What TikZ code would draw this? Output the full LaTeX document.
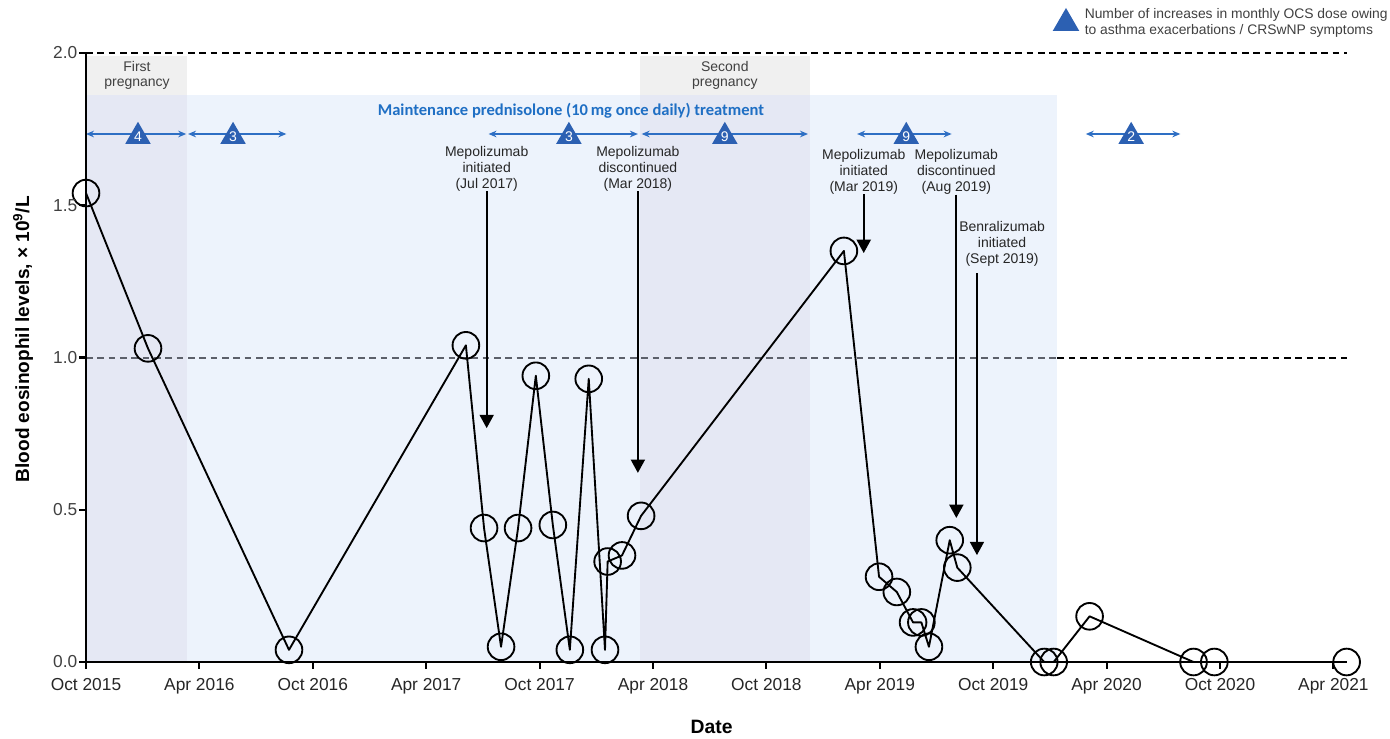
\documentclass[tikz,border=0pt]{standalone}
\usepackage{fontspec}
\setmainfont{Liberation Sans}
\newfontfamily\calibri{Carlito}
\usepackage{tikz}
\usetikzlibrary{positioning,arrows.meta,shapes.geometric}
\definecolor{bandblue}{RGB}{237,243,252}
\definecolor{bandgray}{RGB}{240,240,240}
\definecolor{bandboth}{RGB}{229,232,244}
\definecolor{ocsblue}{RGB}{46,111,196}
\definecolor{ocsfill}{RGB}{44,96,178}
\definecolor{ocstext}{RGB}{31,111,196}
\definecolor{txtgray}{RGB}{64,64,64}
\definecolor{refgray}{RGB}{92,96,106}
\tikzstyle{reading}=[draw, circle, minimum size=20pt, inner sep=0pt, line width=1.4pt]
\tikzstyle{dataline}=[line width=1.4pt, line join=round]
\tikzstyle{ocs}=[fill=ocsfill, regular polygon, regular polygon sides=3, minimum size=22pt, inner sep=0pt, text=white, font=\fontsize{10.5pt}{10.5pt}\selectfont]
\tikzstyle{ocsspan}=[ocsblue, line width=1.1pt, {Stealth[length=6pt,width=5pt]}-{Stealth[length=6pt,width=5pt]}]
\tikzstyle{event}=[align=center, inner sep=0pt, anchor=north, text=black!85, font=\fontsize{10.5pt}{12pt}\selectfont]
\tikzstyle{eventarrow}=[line width=1.5pt, -{Triangle[width=10.5pt,length=10pt]}]
\tikzstyle{bandtext}=[align=center, inner sep=0pt, text=txtgray, font=\fontsize{10.5pt}{11.5pt}\selectfont]
\tikzstyle{xlab}=[anchor=north, inner sep=0pt, text=black!85, font=\fontsize{13pt}{13pt}\selectfont]
\tikzstyle{ylab}=[anchor=east, inner sep=0pt, text=txtgray, font=\fontsize{13pt}{13pt}\selectfont]
\tikzstyle{axisline}=[line width=1.6pt]
\tikzstyle{refline}=[dash pattern=on 5pt off 3.5pt, line width=1.5pt]
\begin{document}
\begin{tikzpicture}[x=0.75pt, y=-0.75pt]
	\useasboundingbox (0,0) rectangle (1390,739);
	% legend
	\node[ocs, minimum size=23pt] (legendMark) at (1066,23.3) {};
	\node[right=7pt of legendMark, align=left, inner sep=0pt, text=txtgray, font=\fontsize{10.4pt}{12pt}\selectfont] (legendText) {Number of increases in monthly OCS dose owing\\to asthma exacerbations / CRSwNP symptoms};
	% plot area: months since Oct 2015 / eosinophils
	\begin{scope}[shift={(86,662)}, x=14.175pt, y=228.375pt]
		% treatment and pregnancy bands
		\fill[bandblue] (0,0) rectangle (51.4,1.862);
		\fill[bandgray] (0,1.862) rectangle (5.34,1.99);
		\fill[bandboth] (0,0) rectangle (5.34,1.862);
		\fill[bandgray] (29.3,1.862) rectangle (38.3,1.99);
		\fill[bandboth] (29.3,0) rectangle (38.3,1.862);
		\node[bandtext] (preg1) at (2.7,1.926) {First\\pregnancy};
		\node[bandtext] (preg2) at (33.8,1.926) {Second\\pregnancy};
		\node[text=ocstext, font=\calibri\bfseries\fontsize{12.4pt}{13pt}\selectfont] (maint) at (25.66,1.81) {Maintenance prednisolone (10\,mg once daily) treatment};
		% reference lines
		\draw[refline] (0,2) -- (66.7,2);
		\draw[refline, refgray] (0,1) -- (51.4,1);
		\draw[refline] (51.4,1) -- (66.7,1);
		% OCS increases
		\foreach \a/\b/\c/\n [count=\k] in {0/5.3/2.75/4, 5.4/10.6/7.78/3, 21.3/29.2/25.55/3, 29.4/38.2/33.8/9, 40.8/45.8/43.4/9, 52.9/57.9/55.3/2}{
			\coordinate (ocsL\k) at (\a,1.734);
			\coordinate (ocsR\k) at (\b,1.734);
			\draw[ocsspan] (ocsL\k) -- (ocsR\k);
			\node[ocs] (ocs\k) at (\c,1.726) {\n};
		}
		% treatment events
		\node[event] (mepoJul) at (21.2,1.695) {Mepolizumab\\initiated\\(Jul 2017)};
		\coordinate (mepoJulTip) at (21.2,0.768);
		\node[event] (mepoMar) at (29.2,1.695) {Mepolizumab\\discontinued\\(Mar 2018)};
		\coordinate (mepoMarTip) at (29.2,0.621);
		\node[event] (mepoRe) at (41.15,1.685) {Mepolizumab\\initiated\\(Mar 2019)};
		\coordinate (mepoReTip) at (41.15,1.343);
		\node[event] (mepoAug) at (46.05,1.685) {Mepolizumab\\discontinued\\(Aug 2019)};
		\coordinate (mepoAugTip) at (46.05,0.473);
		\node[event] (benra) at (48.47,1.448) {Benralizumab\\initiated\\(Sept 2019)};
		\coordinate (benraTop) at (47.14,1.277);
		\coordinate (benraTip) at (47.14,0.351);
		\draw[eventarrow] (mepoJul.south) -- (mepoJulTip);
		\draw[eventarrow] (mepoMar.south) -- (mepoMarTip);
		\draw[eventarrow] (mepoRe.south) -- (mepoReTip);
		\draw[eventarrow] (mepoAug.south) -- (mepoAugTip);
		\draw[eventarrow] (benraTop) -- (benraTip);
		% eosinophil readings
		\foreach \m/\v [count=\i] in {0/1.54, 3.28/1.03, 10.74/0.04, 20.1/1.04, 21.06/0.44, 21.96/0.05, 22.86/0.44, 23.8/0.94, 24.7/0.45, 25.6/0.04, 26.6/0.93, 27.46/0.04, 27.6/0.33, 28.36/0.35, 29.37/0.48, 40.1/1.35, 41.96/0.28, 42.9/0.23, 43.76/0.13, 44.2/0.13, 44.6/0.05, 45.7/0.40, 46.1/0.31, 50.7/0, 51.2/0, 53.1/0.15, 58.6/0, 59.7/0, 66.7/0}
			\node[reading] (p\i) at (\m,\v) {};
		\draw[dataline] (p1.center) \foreach \i in {2,...,29}{ -- (p\i.center) };
		% axes
		\draw[axisline] (0,2) -- (0,0) -- (66.7,0);
		\foreach \v/\t in {0/0.0, 0.5/0.5, 1/1.0, 1.5/1.5, 2/2.0}{
			\draw[axisline] (-0.37,\v) -- (0,\v);
			\node[ylab] at (-0.45,\v) {\t};
		}
		\foreach \m/\t in {0/Oct 2015, 6/Apr 2016, 12/Oct 2016, 18/Apr 2017, 24/Oct 2017, 30/Apr 2018, 36/Oct 2018, 42/Apr 2019, 48/Oct 2019, 54/Apr 2020, 60/Oct 2020, 66/Apr 2021}{
			\draw[axisline] (\m,0) -- (\m,-0.023);
			\node[xlab] at (\m,-0.0525) {\t};
		}
		\node[rotate=90, font=\bfseries\fontsize{14.3pt}{14.3pt}\selectfont] (ylabel) at (-3.33,1.06) {Blood eosinophil levels, × 10\textsuperscript{9}/L};
		\node[font=\bfseries\fontsize{14.5pt}{14.5pt}\selectfont] (xlabel) at (33.1,-0.213) {Date};
	\end{scope}
\end{tikzpicture}
\end{document}
